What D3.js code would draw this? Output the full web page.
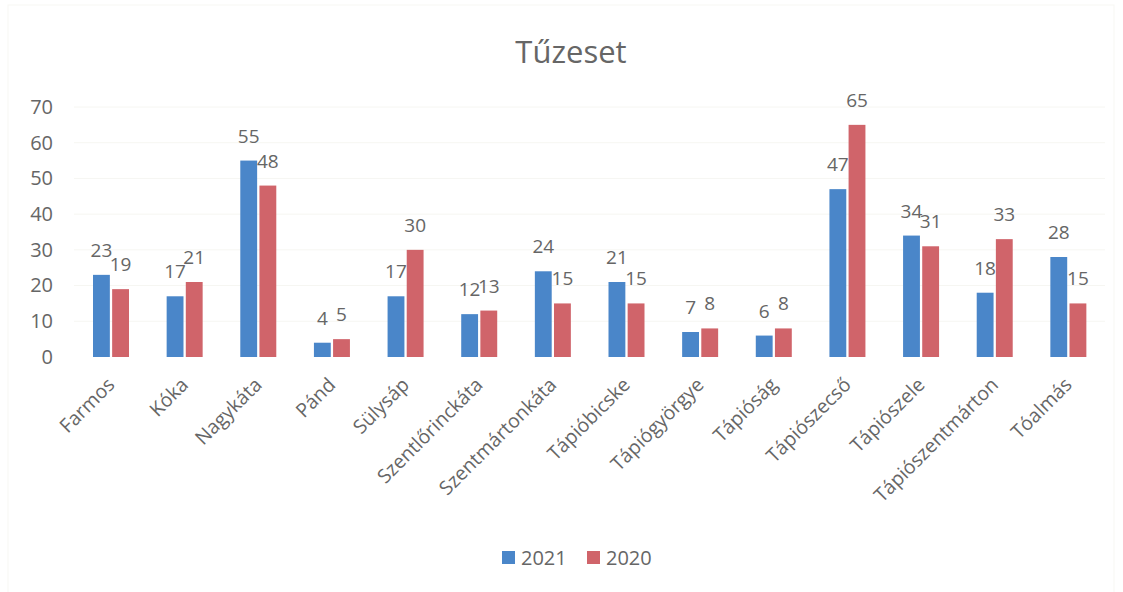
<!DOCTYPE html>
<html>
<head>
<meta charset="utf-8">
<script src="https://cdn.jsdelivr.net/npm/d3@7"></script>
<style>
  body { margin: 0; background: #fff; }
  text { font-family: "Open Sans", sans-serif; fill: #666; }
</style>
</head>
<body>
<svg class="chart"></svg>
<script>
const categories = ['Farmos', 'Kóka', 'Nagykáta', 'Pánd', 'Sülysáp', 'Szentlőrinckáta',
  'Szentmártonkáta', 'Tápióbicske', 'Tápiógyörgye', 'Tápióság', 'Tápiószecső',
  'Tápiószele', 'Tápiószentmárton', 'Tóalmás']
const values2021 = [23, 17, 55, 4, 17, 12, 24, 21, 7, 6, 47, 34, 18, 28]
const values2020 = [19, 21, 48, 5, 30, 13, 15, 15, 8, 8, 65, 31, 33, 15]
const seriesNames = ['2021', '2020']
const yTicks = [0, 10, 20, 30, 40, 50, 60, 70]

const svgWidth = 1123;
const svgHeight = 592;
const colors = {'2021': '#4a86c9', '2020': '#d0646a'}

const svg = d3.select('.chart')
  .attr('width', svgWidth)
  .attr('height', svgHeight)

// faint frame of the scanned chart area
svg.append('rect')
  .attr('x', 8).attr('y', 5)
  .attr('width', 1106).attr('height', 600)
  .attr('fill', 'none')
  .attr('stroke', '#f7f7f3')

const x = d3.scaleBand()
  .domain(categories)
  .range([74, 1105])

const x1 = d3.scaleBand()
  .domain(seriesNames)
  .range([19, 55])
  .paddingInner(0.12)

const y = d3.scaleLinear()
  .domain([0, 70])
  .range([357, 107])

// gridlines (very faint in the scan)
svg.append('g')
  .selectAll('line')
  .data(yTicks.slice(1))
  .join('line')
  .attr('x1', 74).attr('x2', 1105)
  .attr('y1', d => y(d)).attr('y2', d => y(d))
  .attr('stroke', '#f6f6f2')

// y axis labels
const yAxis = svg.append('g')
  .attr('transform', 'translate(62, 0)')
  .call(d3.axisLeft(y).tickValues(yTicks).tickSize(0).tickPadding(9))
yAxis.select('.domain').remove()
yAxis.selectAll('text')
  .style('font-size', '20px')
  .style('font-family', '"Open Sans", sans-serif')
  .attr('fill', '#666')

const rows = categories.map((c, i) => ({cat: c, '2021': values2021[i], '2020': values2020[i]}))

const groups = svg.append('g')
  .selectAll('g')
  .data(rows)
  .join('g')
  .attr('transform', d => `translate(${x(d.cat)}, 0)`)

groups.selectAll('rect')
  .data(d => seriesNames.map(s => ({key: s, value: d[s]})))
  .join('rect')
  .attr('x', d => x1(d.key))
  .attr('y', d => y(d.value))
  .attr('width', x1.bandwidth())
  .attr('height', d => y(0) - y(d.value))
  .attr('fill', d => colors[d.key])

groups.selectAll('text.val')
  .data(d => seriesNames.map(s => ({key: s, value: d[s]})))
  .join('text')
  .attr('class', 'val')
  .attr('x', d => x1(d.key) + x1.bandwidth() / 2)
  .attr('y', d => y(d.value) - 18)
  .attr('text-anchor', 'middle')
  .style('font-size', '19px')
  .text(d => d.value)

// category labels
const xAxis = svg.append('g')
  .attr('transform', 'translate(0, 357)')
  .call(d3.axisBottom(x).tickSize(0).tickPadding(0))
xAxis.select('.domain').remove()
xAxis.selectAll('text')
  .style('font-size', '19.5px')
  .style('font-family', '"Open Sans", sans-serif')
  .attr('fill', '#666')
  .style('text-anchor', 'end')
  .attr('dy', '0')
  .attr('y', 0)
  .attr('transform', 'translate(5, 29) rotate(-45)')

// title
svg.append('text')
  .attr('x', 571)
  .attr('y', 63)
  .attr('text-anchor', 'middle')
  .style('font-size', '31px')
  .text('Tűzeset')

// legend
const legend = svg.append('g')
seriesNames.forEach((s, i) => {
  legend.append('rect')
    .attr('x', 502 + i * 85)
    .attr('y', 551)
    .attr('width', 13)
    .attr('height', 13)
    .attr('fill', colors[s])
  legend.append('text')
    .attr('x', 521 + i * 85)
    .attr('y', 565)
    .style('font-size', '20px')
    .text(s)
})
</script>
</body>
</html>
